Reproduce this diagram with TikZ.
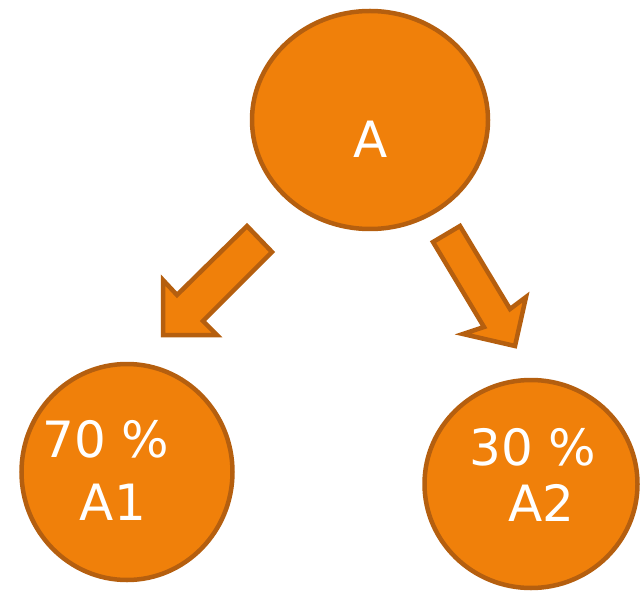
\documentclass[tikz,border=0pt]{standalone}
\usepackage{fontspec}
\setmainfont{DejaVu Sans}
\usetikzlibrary{shapes.geometric}
\definecolor{fillorange}{RGB}{240,128,10}
\definecolor{edgeorange}{RGB}{181,95,15}

\begin{document}
\begin{tikzpicture}[x=1pt,y=-1pt,
  blob/.style={ellipse,fill=fillorange,draw=edgeorange,line width=4.5pt,inner sep=0pt},
  fatarrow/.style={fill=fillorange,draw=edgeorange,line width=4.5pt,line join=miter},
  word/.style={anchor=base,text=white,inner sep=0pt,font=\fontsize{50}{60}\selectfont}]
\useasboundingbox (0,0) rectangle (644,593);
% top
\node[blob,minimum width=236pt,minimum height=218pt] (a) at (370,120) {};
\node[word] (ta) at (371,158) {A};
% left
\node[blob,minimum width=211pt,minimum height=216pt] (a1) at (127,472) {};
\node[word] (p1) at (106,457) {70 \%};
\node[word] (t1) at (113,520) {A1};
% right
\node[blob,minimum width=213pt,minimum height=208pt] (a2) at (531,484) {};
\node[word] (p2) at (533,465) {30 \%};
\node[word] (t2) at (541,521) {A2};
% arrows
\filldraw[fatarrow] (247,226) -- (177,295) -- (163,280) -- (163,335) -- (217,335) -- (203,321) -- (272,252) -- cycle;
\filldraw[fatarrow] (433,242) -- (484,327) -- (463,334) -- (515,346) -- (526,297) -- (510,309) -- (460,226) -- cycle;
\end{tikzpicture}
\end{document}
